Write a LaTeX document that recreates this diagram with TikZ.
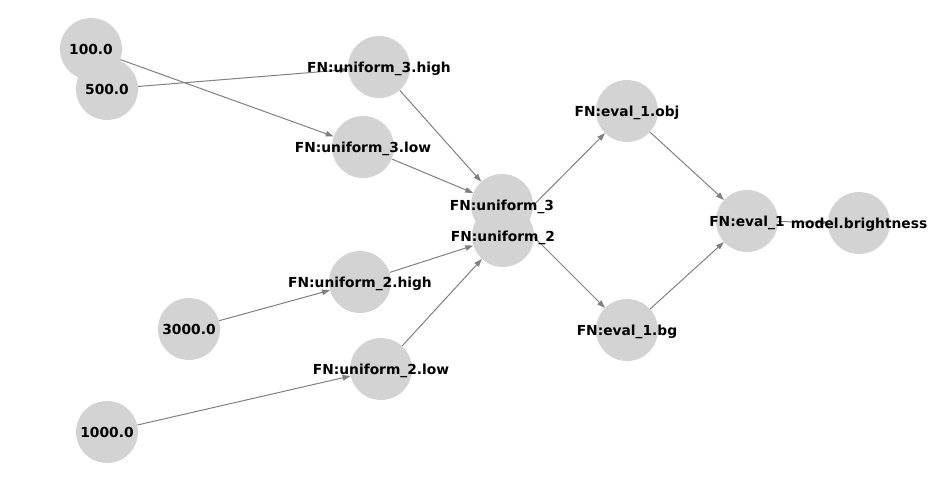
\documentclass[tikz,border=0pt]{standalone}
\usepackage{fontspec}
\setmainfont{DejaVu Sans}
\usepackage{xcolor}
\usepackage{tikz}
\usetikzlibrary{arrows.meta,backgrounds}

\definecolor{nodegray}{HTML}{D3D3D3}
\definecolor{edgegray}{HTML}{808080}

\begin{document}
\begin{tikzpicture}[
    x=1pt, y=-1pt,
    dot/.style={circle, fill=nodegray, minimum size=62pt, inner sep=0pt},
    lbl/.style={font=\bfseries\fontsize{13.8}{16}\selectfont, inner sep=0pt, text height=10pt, text depth=0pt},
    arr/.style={-{Triangle[length=8pt,width=5.5pt]}, draw=edgegray, line width=1pt}
  ]
  \useasboundingbox (0,0) rectangle (950,482);

  % nodes
  \node[dot] (c100)  at (91,49)   {};
  \node[dot] (c500)  at (107,89)  {};
  \node[dot] (c3000) at (189,329) {};
  \node[dot] (c1000) at (107,432) {};
  \node[dot] (uthi)  at (379,67)  {};
  \node[dot] (utlo)  at (363,147) {};
  \node[dot] (uwhi)  at (360,282) {};
  \node[dot] (uwlo)  at (381,369) {};
  \node[dot] (ut)    at (502,205) {};
  \node[dot] (uw)    at (503,236) {};
  \node[dot] (eobj)  at (627,111) {};
  \node[dot] (ebg)   at (627,330) {};
  \node[dot] (ev)    at (747,221) {};
  \node[dot] (mb)    at (859,223) {};

  % labels on top
  \node[lbl] at (c100)  {100.0};
  \node[lbl] at (c500)  {500.0};
  \node[lbl] at (c3000) {3000.0};
  \node[lbl] at (c1000) {1000.0};
  \node[lbl] at (uthi)  {FN:uniform\_3.high};
  \node[lbl] at (utlo)  {FN:uniform\_3.low};
  \node[lbl] at (uwhi)  {FN:uniform\_2.high};
  \node[lbl] at (uwlo)  {FN:uniform\_2.low};
  \node[lbl] at (ut)    {FN:uniform\_3};
  \node[lbl] at (uw)    {FN:uniform\_2};
  \node[lbl] at (eobj)  {FN:eval\_1.obj};
  \node[lbl] at (ebg)   {FN:eval\_1.bg};
  \node[lbl] at (ev)    {FN:eval\_1};
  \node[lbl] at (mb)    {model.brightness};

  % edges
  \begin{scope}[on background layer]
    \draw[arr] (c100) -- (utlo);
    \draw[arr] (c500) -- (uthi);
    \draw[arr] (uthi) -- (ut);
    \draw[arr] (utlo) -- (ut);
    \draw[arr] (c3000) -- (uwhi);
    \draw[arr] (c1000) -- (uwlo);
    \draw[arr] (uwhi) -- (uw);
    \draw[arr] (uwlo) -- (uw);
    \draw[arr] (uw) -- (eobj);
    \draw[arr] (ut) -- (ebg);
    \draw[arr] (eobj) -- (ev);
    \draw[arr] (ebg) -- (ev);
    \draw[arr] (ev) -- (mb);
  \end{scope}
\end{tikzpicture}
\end{document}
